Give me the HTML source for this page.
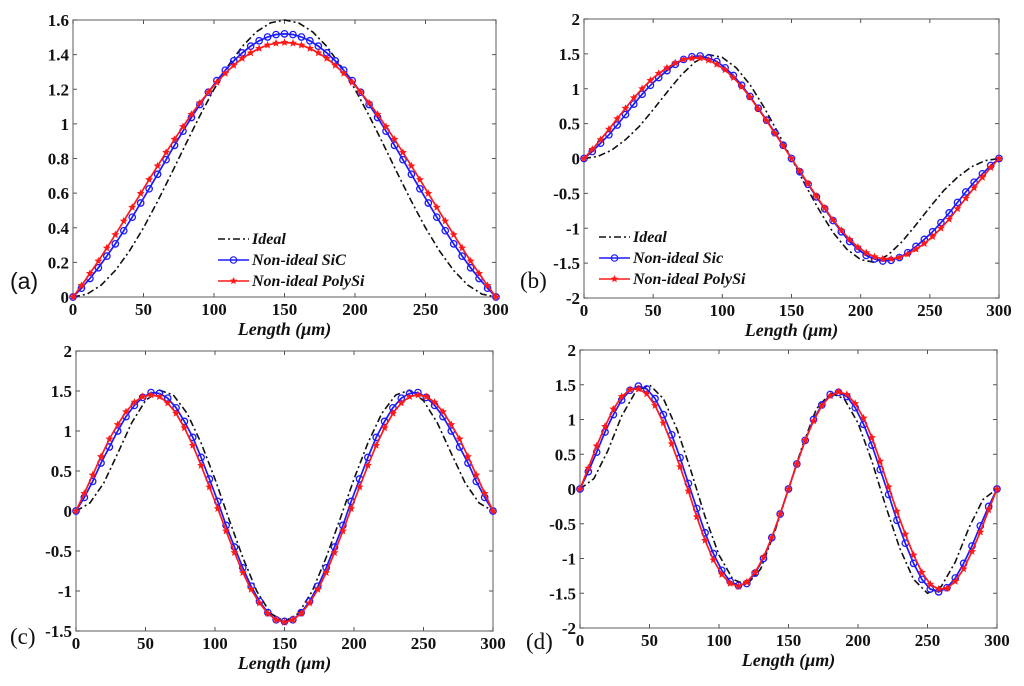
<!DOCTYPE html>
<html><head><meta charset="utf-8">
<style>
html,body{margin:0;padding:0;background:#fff;}
svg{display:block;}
.tick{font-family:"Liberation Serif",serif;font-weight:bold;font-size:17px;fill:#111;}
.xl{font-family:"Liberation Serif",serif;font-weight:bold;font-style:italic;font-size:18px;fill:#111;}
.lg{font-family:"Liberation Serif",serif;font-weight:bold;font-style:italic;font-size:16px;fill:#111;}
</style></head>
<body>
<svg id="fig" width="1024" height="686" viewBox="0 0 1024 686" xmlns="http://www.w3.org/2000/svg"></svg>
<script>
// ---- data ----
const xIdeal = [0,10,20,30,40,50,60,70,80,90,100,110,120,130,140,150,160,170,180,190,200,210,220,230,240,250,260,270,280,290,300];
const xMark = [0,6,12,18,24,30,36,42,48,54,60,66,72,78,84,90,96,102,108,114,120,126,132,138,144,150,156,162,168,174,180,186,192,198,204,210,216,222,228,234,240,246,252,258,264,270,276,282,288,294,300];
const xTicks = [0,50,100,150,200,250,300];

const aIdeal = [0,.017,.069,.153,.265,.4,.553,.716,.884,1.047,1.2,1.335,1.447,1.531,1.583,1.6,1.583,1.531,1.447,1.335,1.2,1.047,.884,.716,.553,.4,.265,.153,.069,.017,0];
const aSiC = [0,.051,.107,.169,.236,.307,.383,.461,.543,.625,.709,.793,.876,.958,1.037,1.112,1.183,1.25,1.31,1.364,1.41,1.449,1.48,1.502,1.516,1.52,1.516,1.502,1.48,1.449,1.41,1.364,1.31,1.25,1.183,1.112,1.037,.958,.876,.793,.709,.625,.543,.461,.383,.307,.236,.169,.107,.051,0];
const aPoly = [0,.066,.136,.208,.283,.36,.439,.518,.598,.678,.757,.835,.911,.984,1.055,1.121,1.183,1.24,1.292,1.338,1.378,1.41,1.436,1.455,1.466,1.47,1.466,1.455,1.436,1.41,1.378,1.338,1.292,1.24,1.183,1.121,1.055,.984,.911,.835,.757,.678,.598,.518,.439,.36,.283,.208,.136,.066,0];
const aYTicks = [0,0.2,0.4,0.6,0.8,1,1.2,1.4,1.6];
const aYLabels = ["0","0.2","0.4","0.6","0.8","1","1.2","1.4","1.6"];

const bIdeal = [0,.03,.12,.27,.46,.7,.95,1.19,1.38,1.49,1.45,1.3,1.06,.74,.38,0,-.38,-.74,-1.06,-1.3,-1.45,-1.49,-1.38,-1.19,-.95,-.7,-.46,-.27,-.12,-.03,0];
const bSiC = [0,.1,.22,.34,.48,.63,.78,.92,1.05,1.16,1.26,1.35,1.42,1.46,1.47,1.44,1.39,1.3,1.19,1.05,.89,.72,.55,.37,.19,0,-.19,-.37,-.55,-.72,-.89,-1.05,-1.19,-1.3,-1.39,-1.44,-1.47,-1.46,-1.42,-1.35,-1.26,-1.16,-1.05,-.92,-.78,-.63,-.48,-.34,-.22,-.1,0];
const bPoly = [0,.13,.27,.42,.57,.72,.87,1,1.12,1.22,1.3,1.37,1.42,1.44,1.44,1.41,1.35,1.27,1.16,1.03,.88,.71,.54,.36,.18,0,-.18,-.36,-.54,-.71,-.88,-1.03,-1.16,-1.27,-1.35,-1.41,-1.44,-1.44,-1.42,-1.37,-1.3,-1.22,-1.12,-1,-.87,-.72,-.57,-.42,-.27,-.13,0];
const bYTicks = [-2,-1.5,-1,-0.5,0,0.5,1,1.5,2];
const bYLabels = ["-2","-1.5","-1","-0.5","0","0.5","1","1.5","2"];

const cIdeal = [0,.1,.35,.72,1.1,1.38,1.51,1.45,1.22,.85,.4,-.1,-.58,-1,-1.28,-1.38,-1.28,-1,-.58,-.1,.4,.85,1.22,1.45,1.51,1.38,1.1,.72,.35,.1,0];
const cSiC = [0,.17,.37,.6,.8,1,1.18,1.32,1.42,1.48,1.47,1.41,1.29,1.12,.92,.67,.4,.12,-.18,-.45,-.71,-.94,-1.13,-1.27,-1.36,-1.38,-1.36,-1.27,-1.13,-.94,-.71,-.45,-.18,.12,.4,.67,.92,1.12,1.29,1.41,1.47,1.48,1.42,1.32,1.18,1,.8,.6,.37,.17,0];
const cPoly = [0,.22,.45,.68,.9,1.08,1.24,1.36,1.43,1.45,1.43,1.35,1.22,1.04,.82,.57,.3,.03,-.25,-.52,-.77,-.98,-1.15,-1.28,-1.36,-1.39,-1.36,-1.28,-1.15,-.98,-.77,-.52,-.25,.03,.3,.57,.82,1.04,1.22,1.35,1.43,1.45,1.43,1.36,1.24,1.08,.9,.68,.45,.22,0];
const cYTicks = [-1.5,-1,-0.5,0,0.5,1,1.5,2];
const cYLabels = ["-1.5","-1","-0.5","0","0.5","1","1.5","2"];

const dIdeal = [0,.15,.55,1.05,1.4,1.5,1.3,.85,.25,-.4,-.95,-1.3,-1.38,-1.15,-.62,0,.62,1.15,1.38,1.3,.95,.4,-.25,-.85,-1.3,-1.5,-1.4,-1.05,-.55,-.15,0];
const dSiC = [0,.25,.53,.82,1.07,1.28,1.42,1.48,1.44,1.3,1.07,.78,.45,.08,-.28,-.63,-.93,-1.17,-1.33,-1.39,-1.36,-1.21,-1,-.7,-.36,0,.36,.7,1,1.21,1.36,1.39,1.33,1.17,.93,.63,.28,-.08,-.45,-.78,-1.07,-1.3,-1.44,-1.48,-1.42,-1.28,-1.07,-.82,-.53,-.25,0];
const dPoly = [0,.3,.62,.9,1.15,1.33,1.43,1.44,1.37,1.2,.95,.65,.32,-.03,-.4,-.74,-1.02,-1.23,-1.36,-1.4,-1.34,-1.2,-.98,-.7,-.36,0,.36,.7,.98,1.2,1.34,1.4,1.36,1.23,1.02,.74,.4,.03,-.32,-.65,-.95,-1.2,-1.37,-1.44,-1.43,-1.33,-1.15,-.9,-.62,-.3,0];
const dYTicks = [-2,-1.5,-1,-0.5,0,0.5,1,1.5,2];
const dYLabels = ["-2","-1.5","-1","-0.5","0","0.5","1","1.5","2"];

const legendLabelsA = ["Ideal","Non-ideal SiC","Non-ideal PolySi"];
const legendLabelsB = ["Ideal","Non-ideal Sic","Non-ideal PolySi"];

// ---- drawing ----
const NS = "http://www.w3.org/2000/svg";
const svg = document.getElementById('fig');
function mk(tag, attrs, parent){
  const e = document.createElementNS(NS, tag);
  for (const k in attrs) e.setAttribute(k, attrs[k]);
  (parent||svg).appendChild(e);
  return e;
}
function starPath(cx, cy, r){
  let d = "";
  for (let i=0;i<10;i++){
    const rr = i%2===0 ? r : r*0.45;
    const a = -Math.PI/2 + i*Math.PI/5;
    d += (i===0?"M":"L") + (cx+rr*Math.cos(a)).toFixed(1) + " " + (cy+rr*Math.sin(a)).toFixed(1);
  }
  return d+"Z";
}

function panel(id, box, ymin, ymax, yTicks, yLabels, ideal, sic, poly, tag, tagPos, tagFont, legend){
  const g = mk('g', {});
  
  
  const X = v => box.l + (v-0)/(300-0)*(box.r-box.l);
  const Y = v => box.b - (v-ymin)/(ymax-ymin)*(box.b-box.t);
  const frame = mk('rect', {x:box.l, y:box.t, width:box.r-box.l, height:box.b-box.t, fill:'#fff', stroke:'#777', 'stroke-width':1.2}, g);
  
  
  const xax = mk('g', {}, g);
  
  
  xTicks.forEach(t => {
    const x = X(t);
    mk('line', {x1:x, x2:x, y1:box.b, y2:box.b-4, stroke:'#555'}, xax);
    mk('line', {x1:x, x2:x, y1:box.t, y2:box.t+4, stroke:'#555'}, xax);
    const tx = mk('text', {x:x, y:box.b+18, 'text-anchor':'middle', class:'tick'}, xax);
    tx.textContent = t;
    
    
  });
  const yax = mk('g', {}, g);
  
  
  yTicks.forEach((t,i) => {
    const y = Y(t);
    mk('line', {x1:box.l, x2:box.l+4, y1:y, y2:y, stroke:'#555'}, yax);
    mk('line', {x1:box.r, x2:box.r-4, y1:y, y2:y, stroke:'#555'}, yax);
    const ty = mk('text', {x:box.l-4, y:y+6, 'text-anchor':'end', class:'tick'}, yax);
    ty.textContent = yLabels[i];
    
    
  });
  const xl = mk('text', {x:(box.l+box.r)/2, y:box.b+38, 'text-anchor':'middle', class:'xl'}, g);
  xl.textContent = 'Length (\u03bcm)';
  
  

  const idealLine = mk('polyline', {points: ideal.map((v,i)=>X(xIdeal[i]).toFixed(1)+','+Y(v).toFixed(1)).join(' '), fill:'none', stroke:'#111', 'stroke-width':1.6, 'stroke-dasharray':'7,3,2,3'}, g);
  
  
  const sicLine = mk('polyline', {points: sic.map((v,i)=>X(xMark[i]).toFixed(1)+','+Y(v).toFixed(1)).join(' '), fill:'none', stroke:'#1a1aff', 'stroke-width':1.7}, g);
  
  
  sic.forEach((v,i) => {
    const c = mk('circle', {cx:X(xMark[i]), cy:Y(v), r:3.2, fill:'none', stroke:'#1a1aff', 'stroke-width':1.3}, g);
    
    
  });
  const polyLine = mk('polyline', {points: poly.map((v,i)=>X(xMark[i]).toFixed(1)+','+Y(v).toFixed(1)).join(' '), fill:'none', stroke:'#ff1a1a', 'stroke-width':1.7}, g);
  
  
  poly.forEach((v,i) => {
    const s = mk('path', {d:starPath(X(xMark[i]), Y(v), 4.2), fill:'#ff1a1a'}, g);
    
    
  });

  const tg = mk('text', {x:tagPos[0], y:tagPos[1], 'font-family':tagFont, 'font-size':23, fill:'#111'}, g);
  tg.textContent = tag;
  
  

  if (legend){
    const lg = mk('g', {}, g);
    
    
    const [lx, ly, dy, labels] = legend;
    for (let i=0;i<3;i++){
      const y = ly + i*dy;
      const e = mk('g', {}, lg);
      
      
      if (i===0) mk('line', {x1:lx, x2:lx+31, y1:y, y2:y, stroke:'#111', 'stroke-width':1.5, 'stroke-dasharray':'7,3,2,3'}, e);
      if (i===1){ mk('line', {x1:lx, x2:lx+31, y1:y, y2:y, stroke:'#1a1aff', 'stroke-width':1.6}, e); mk('circle', {cx:lx+15.5, cy:y, r:3.2, fill:'none', stroke:'#1a1aff', 'stroke-width':1.2}, e); }
      if (i===2){ mk('line', {x1:lx, x2:lx+31, y1:y, y2:y, stroke:'#ff1a1a', 'stroke-width':1.6}, e); mk('path', {d:starPath(lx+15.5, y, 4), fill:'#ff1a1a'}, e); }
      const t = mk('text', {x:lx+34, y:y+5, class:'lg'}, e);
      t.textContent = labels[i];
    }
  }
}

panel('a', {l:73, r:496, t:20, b:297}, 0, 1.6, aYTicks, aYLabels, aIdeal, aSiC, aPoly, '(a)', [10,289], '"Liberation Sans", sans-serif', [218, 239, 21, legendLabelsA]);
panel('b', {l:584, r:999, t:19, b:298}, -2, 2, bYTicks, bYLabels, bIdeal, bSiC, bPoly, '(b)', [520,288], '"Liberation Serif", serif', [599, 237, 21, legendLabelsB]);
panel('c', {l:76, r:493, t:351, b:631}, -1.5, 2, cYTicks, cYLabels, cIdeal, cSiC, cPoly, '(c)', [10,644], '"Liberation Serif", serif', null);
panel('d', {l:580, r:997, t:350, b:628}, -2, 2, dYTicks, dYLabels, dIdeal, dSiC, dPoly, '(d)', [526,649], '"Liberation Serif", serif', null);
</script>
</body></html>
